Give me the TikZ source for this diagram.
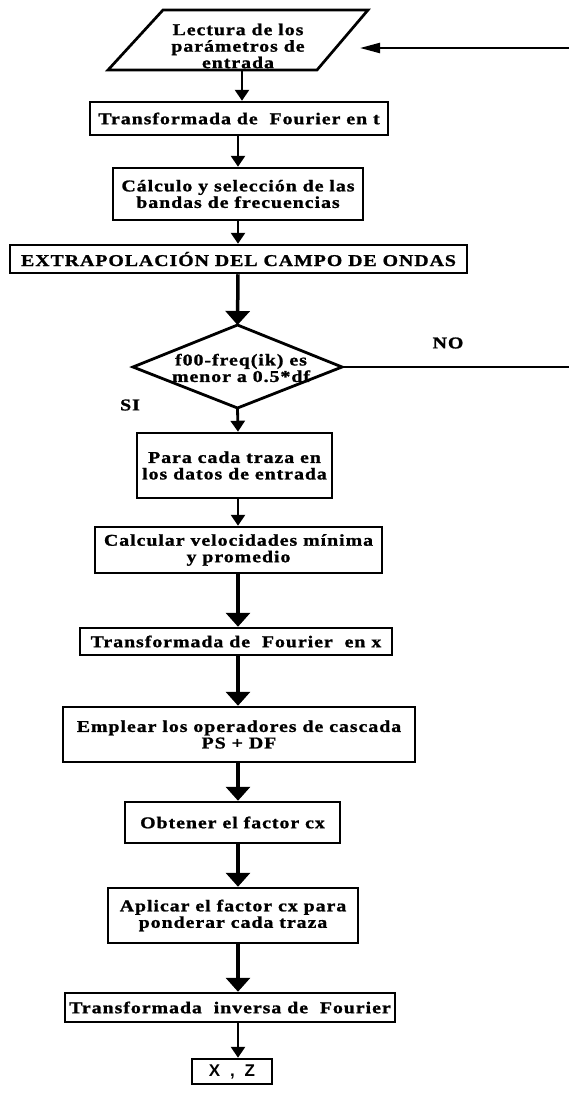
\documentclass[tikz,border=0pt]{standalone}
\usepackage{fontspec}
\usetikzlibrary{arrows.meta}
\newfontfamily\boxfont{Liberation Serif}[FakeStretch=1.2, LetterSpace=6, FakeBold=1.2]
\newfontfamily\xzfont{Liberation Sans}[LetterSpace=30]

\tikzset{
  stepbox/.style={draw, line width=2.5pt, rectangle, inner sep=0pt, align=center,
    font=\boxfont\bfseries\fontsize{16.5}{16.5}\selectfont},
  plaintext/.style={inner sep=0pt, align=center,
    font=\boxfont\bfseries\fontsize{16.5}{16.5}\selectfont},
  bigarrow/.style={line width=3.5pt, -{Triangle[width=24pt,length=14pt]}},
  smallarrow/.style={line width=2.8pt, -{Triangle[width=14pt,length=11pt]}},
  feedarrow/.style={line width=2.2pt, -{Triangle[width=10pt,length=20pt]}},
  plainline/.style={line width=2.2pt},
}

\begin{document}
\begin{tikzpicture}[x=1pt, y=-1pt]
\useasboundingbox (0,0) rectangle (569,1095);

% main vertical axis of the flow
\coordinate (ax) at (238,0);
\coordinate (axr) at (242,0);

% input parallelogram
\coordinate (pTL) at (163,10);
\coordinate (pTR) at (368,10);
\coordinate (pBR) at (317,70);
\coordinate (pBL) at (108,70);
\draw[line width=2.7pt, line join=miter] (pTL) -- (pTR) -- (pBR) -- (pBL) -- cycle;
\node[plaintext] (read) at (238,46) {Lectura de los\\parámetros de\\entrada};
\coordinate (readbot) at (242,70);

% process boxes
\node[stepbox, minimum width=298, minimum height=33] (ft) at (239,118.5)
  {Transformada de \ Fourier en t};
\node[stepbox, minimum width=250, minimum height=52] (bands) at (238,194)
  {Cálculo y selección de las\\bandas de frecuencias};
\node[stepbox, minimum width=457, minimum height=28] (extrap) at (238.5,259)
  {EXTRAPOLACIÓN DEL CAMPO DE ONDAS};

% decision
\coordinate (dT) at (237.5,325);
\coordinate (dR) at (342,367);
\coordinate (dB) at (237.5,408);
\coordinate (dL) at (133,367);
\draw[line width=2.8pt, line join=miter] (dT) -- (dR) -- (dB) -- (dL) -- cycle;
\node[plaintext] (cond) at (241,368) {f00-freq(ik) es\\menor a 0.5*df};
\node[plaintext] (si) at (130,405) {SI};
\node[plaintext] (no) at (448,343) {NO};

\node[stepbox, minimum width=195, minimum height=65] (traza) at (234.5,465.5)
  {Para cada traza en\\los datos de entrada};
\node[stepbox, minimum width=287, minimum height=46] (vel) at (238.5,550)
  {Calcular velocidades mínima\\y promedio};
\node[stepbox, minimum width=312, minimum height=27] (fx) at (236,641.5)
  {Transformada de \ Fourier \ en x};
\node[stepbox, minimum width=352, minimum height=55] (casc) at (239,734.5)
  {Emplear los operadores de cascada\\PS + DF};
\node[stepbox, minimum width=215, minimum height=41] (factor) at (232.5,822.5)
  {Obtener el factor cx};
\node[stepbox, minimum width=250, minimum height=55] (apply) at (233,915.5)
  {Aplicar el factor cx para\\ponderar cada traza};
\node[stepbox, minimum width=330, minimum height=29] (inv) at (230,1007.5)
  {Transformada \ inversa de \ Fourier};
\node[draw, line width=2.5pt, inner sep=0pt, minimum width=80, minimum height=25,
  font=\xzfont\bfseries\fontsize{17}{17}\selectfont] (xz) at (232,1071.5) {X , Z};

% connectors
\draw[smallarrow] (readbot) -- (ft.north -| axr);
\draw[smallarrow] (ft.south -| ax) -- (bands.north -| ax);
\draw[smallarrow] (bands.south -| ax) -- (extrap.north -| ax);
\draw[bigarrow] (extrap.south -| ax) -- (dT);
\draw[smallarrow] (dB) -- (traza.north -| ax);
\draw[smallarrow] (traza.south -| ax) -- (vel.north -| ax);
\draw[bigarrow] (vel.south -| ax) -- (fx.north -| ax);
\draw[bigarrow] (fx.south -| ax) -- (casc.north -| ax);
\draw[bigarrow] (casc.south -| ax) -- (factor.north -| ax);
\draw[bigarrow] (factor.south -| ax) -- (apply.north -| ax);
\draw[bigarrow] (apply.south -| ax) -- (inv.north -| ax);
\draw[smallarrow] (inv.south -| ax) -- (xz.north -| ax);

% loop-back branch
\coordinate (noend) at (569,367);
\draw[plainline] (dR) -- (noend);
\coordinate (backstart) at (569,48);
\coordinate (backtip) at (360,48);
\draw[feedarrow] (backstart) -- (backtip);
\end{tikzpicture}
\end{document}
